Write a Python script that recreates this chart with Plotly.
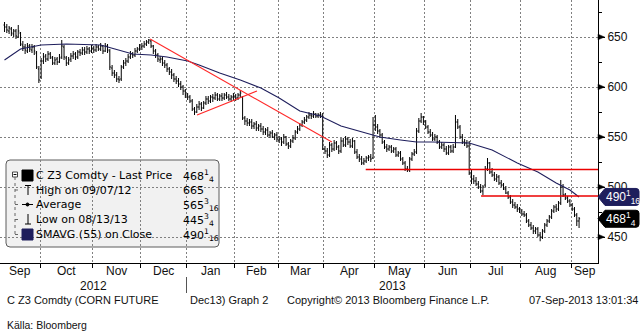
import math
import plotly.graph_objects as go

# ---------------------------------------------------------------------------
# C Z3 Comdty (Dec-13 corn), daily bars 07-Sep-2012 .. 06-Sep-2013, US cents/bu
# one row per calendar month (Sep-12 ... Sep-13)
# ---------------------------------------------------------------------------
OPEN = [
    662, 660, 656, 658, 653, 656, 650, 654, 642, 640, 636, 641, 637, 640, 634, 618,
    610, 626, 631, 628, 633, 629, 624, 628, 625, 630, 640, 629, 624, 628, 631, 633, 630, 635, 634, 637, 635, 638, 636,
    639, 637, 640, 638, 641, 636, 641, 636, 619, 614, 612, 608, 608, 620, 624, 626, 630, 633, 632, 636, 638,
    640, 641, 643, 645, 646, 641, 636, 632, 627, 628, 624, 622, 618, 615, 612, 608, 606, 603, 600, 596,
    592, 590, 586, 578, 575, 580, 583, 579, 584, 588, 586, 590, 589, 592, 588, 591, 589, 592, 590, 588, 590,
    591, 589, 592, 590, 569, 566, 564, 565, 561, 563, 559, 561, 558, 555, 557, 552, 554, 550, 552,
    547, 548, 545, 550, 543, 541, 546, 549, 555, 558, 562, 565, 567, 570, 572, 571, 573, 571, 572, 571,
    538, 536, 532, 542, 538, 544, 540, 536, 546, 542, 548, 545, 541, 546, 535, 530, 528, 524, 526, 529, 530, 529,
    562, 560, 556, 552, 545, 540, 538, 540, 536, 538, 532, 534, 528, 524, 518, 517, 528, 533, 535, 556, 566, 570,
    565, 560, 555, 552, 548, 550, 545, 540, 542, 538, 534, 540, 536, 540, 565, 560, 550, 545, 544, 541,
    512, 508, 506, 503, 500, 496, 502, 518, 524, 515, 512, 508, 510, 504, 502, 498, 494, 490, 485, 482, 480, 478,
    476, 473, 472, 466, 462, 459, 456, 458, 452, 450, 456, 462, 466, 470, 476, 480, 478, 484, 500, 492, 489, 486,
    482, 478, 472, 466,
]
HIGH = [
    665, 663, 661, 660, 658, 658, 662, 655, 646, 643, 644, 643, 643, 642, 636, 621,
    629, 634, 633, 636, 635, 631, 630, 630, 633, 647, 642, 631, 630, 634, 636, 635, 637, 638, 640, 640, 641, 640, 642,
    641, 643, 642, 644, 642, 644, 643, 638, 622, 617, 615, 611, 622, 627, 629, 633, 636, 635, 639, 640, 643,
    644, 646, 647, 648, 647, 642, 638, 634, 631, 630, 627, 624, 620, 618, 614, 611, 609, 606, 602, 598,
    594, 592, 588, 580, 583, 586, 585, 586, 591, 591, 592, 593, 595, 594, 593, 594, 594, 595, 593, 592, 594,
    593, 594, 597, 591, 571, 569, 568, 568, 565, 566, 563, 564, 561, 559, 560, 556, 557, 554, 555,
    551, 550, 553, 551, 545, 548, 552, 557, 561, 564, 567, 570, 572, 575, 574, 576, 574, 574, 575, 574,
    541, 539, 545, 544, 547, 546, 542, 549, 549, 551, 550, 548, 549, 547, 538, 533, 531, 529, 531, 532, 533, 570,
    572, 563, 558, 554, 547, 543, 542, 542, 540, 540, 536, 536, 530, 526, 521, 530, 535, 538, 559, 569, 574, 571,
    567, 562, 558, 555, 553, 552, 547, 545, 544, 541, 542, 542, 543, 572, 568, 562, 553, 548, 547, 546,
    517, 512, 510, 506, 503, 502, 521, 529, 525, 519, 515, 513, 512, 507, 504, 501, 496, 492, 488, 485, 483, 480,
    478, 476, 474, 468, 465, 462, 460, 460, 455, 458, 464, 468, 472, 478, 482, 483, 486, 507, 503, 494, 491, 488,
    484, 480, 474, 470,
]
LOW = [
    655, 654, 653, 651, 650, 648, 649, 641, 636, 633, 634, 635, 634, 632, 618, 604,
    608, 623, 625, 626, 628, 622, 622, 622, 624, 628, 627, 621, 622, 625, 628, 627, 628, 631, 632, 632, 633, 633, 634,
    634, 635, 636, 636, 633, 635, 634, 617, 611, 609, 605, 604, 606, 618, 621, 624, 628, 629, 630, 634, 636,
    637, 639, 641, 643, 639, 633, 629, 625, 624, 621, 619, 615, 612, 608, 605, 603, 600, 597, 592, 589,
    587, 584, 576, 572, 574, 577, 576, 578, 582, 583, 584, 585, 587, 586, 586, 586, 587, 588, 586, 585, 587,
    586, 587, 589, 567, 562, 561, 561, 558, 558, 556, 556, 555, 552, 552, 550, 549, 549, 547, 545,
    544, 541, 543, 541, 538, 539, 544, 547, 553, 556, 560, 563, 565, 568, 568, 569, 569, 569, 569, 537,
    533, 529, 530, 535, 536, 537, 533, 534, 540, 540, 542, 539, 539, 533, 528, 525, 522, 522, 524, 526, 525, 528,
    556, 553, 549, 543, 538, 535, 536, 534, 534, 530, 530, 526, 522, 516, 515, 515, 526, 531, 533, 554, 564, 562,
    558, 553, 550, 546, 546, 543, 538, 538, 535, 532, 532, 534, 534, 539, 558, 548, 543, 541, 539, 512,
    503, 503, 501, 498, 494, 492, 500, 516, 513, 510, 506, 505, 502, 500, 497, 493, 488, 483, 479, 478, 475, 474,
    471, 470, 464, 460, 457, 453, 453, 450, 445.75, 448, 454, 460, 464, 468, 474, 475, 476, 482, 490, 487, 484, 480,
    476, 470, 461, 459,
]
CLOSE = [
    660, 657, 659, 654, 656, 651, 656, 643, 640, 637, 641, 638, 640, 636, 620, 607,
    626, 630, 628, 633, 630, 624, 627, 625, 629, 641, 630, 624, 627, 631, 633, 630, 635, 634, 637, 635, 638, 636, 639,
    637, 640, 638, 641, 636, 641, 637, 620, 614, 612, 608, 607, 620, 624, 626, 630, 633, 632, 636, 638, 640,
    641, 643, 645, 647, 641, 636, 632, 628, 628, 624, 622, 618, 615, 612, 608, 606, 603, 600, 596, 592,
    590, 586, 578, 575, 580, 583, 579, 584, 588, 586, 590, 589, 592, 588, 591, 589, 592, 590, 588, 590, 591,
    589, 592, 594, 569, 566, 564, 565, 561, 563, 559, 561, 558, 555, 557, 552, 554, 550, 552, 548,
    548, 545, 550, 543, 541, 546, 549, 555, 558, 562, 565, 567, 570, 572, 571, 573, 571, 572, 572, 538,
    536, 532, 542, 538, 544, 540, 536, 546, 542, 548, 545, 541, 546, 535, 530, 528, 524, 526, 529, 530, 528, 562,
    560, 556, 552, 545, 540, 538, 540, 536, 538, 532, 534, 528, 524, 518, 517, 528, 533, 535, 556, 566, 570, 565,
    560, 555, 552, 548, 550, 545, 540, 542, 538, 534, 540, 536, 540, 565, 560, 550, 545, 544, 541, 514,
    508, 506, 503, 500, 496, 500, 518, 524, 515, 512, 508, 510, 504, 502, 498, 494, 490, 485, 482, 480, 478, 476,
    473, 472, 466, 462, 459, 456, 458, 452, 450, 456, 462, 466, 470, 476, 480, 478, 484, 500, 492, 489, 486, 482,
    478, 472, 466, 468.25,
]

# month axis: first bar index of each month after the first one
MONTHS = ["Sep", "Oct", "Nov", "Dec", "Jan", "Feb", "Mar", "Apr", "May", "Jun", "Jul", "Aug", "Sep"]
MONTH_START = [16, 39, 60, 80, 101, 120, 140, 162, 184, 204, 226, 248]
YEARS = ["2012", "2013"]
YEAR_START = 80

# 55-day simple moving average of the close (bar index, value)
SMA_IDX = [0, 7, 16, 27, 42, 50, 56, 64, 71, 80, 85, 94, 103, 112, 120, 129, 138, 147, 155,
           164, 173, 180, 187, 197, 203, 213, 224, 233, 241, 247, 251]
SMA_VAL = [627, 638, 642, 643, 642, 637, 633, 632, 630, 626, 622, 614, 607, 599, 589, 576, 571, 561, 556,
           550, 547, 545, 545, 544, 544, 537, 524, 515, 504, 497, 490.0625]

# hand-drawn trend lines: (start index, start price, end index, end price)
TRENDS = [(63.6, 648, 143.0, 545), (84.1, 572, 110.3, 596)]
# horizontal support lines: (start index, price), run to the right edge
LEVELS = [(157.8, 517.5), (208.2, 491)]

Y_TICKS = [450, 500, 550, 600, 650]
Y_MINOR = [475, 525, 575, 625, 675]

TICKER = "C Z3 Comdty"
AVERAGE = 565.1875
HIGH_DATE = "09/07/12"
LOW_DATE = "08/13/13"

for arr in (OPEN, HIGH, LOW):
    assert len(arr) == len(CLOSE)

# ---------------------------------------------------------------------------
W, H = 641, 336
PW, PH = 598, 263                     # plot area in pixels (left/top at 0)
X_RANGE = [-1.975, 259.27]
Y_RANGE = [424, 687]

NAVY = "#1e1e5c"
GRID = "#808080"
TXT = "#111111"
AX_FONT = "Liberation Sans, Arial, sans-serif"
LEG_FONT = "DejaVu Sans, Verdana, sans-serif"


def xp(px):
    return px / PW


def yp(py):
    return (PH - py) / PH


def frac_html(v):
    whole = math.floor(v)
    rem = v - whole
    if rem < 1e-9:
        return str(whole)
    den = 1
    while abs(rem * den - round(rem * den)) > 1e-9:
        den *= 2
    return f"{whole}<sup>{round(rem * den)}</sup><sub>{den}</sub>"


idx = list(range(len(CLOSE)))
fig = go.Figure()

fig.add_trace(go.Ohlc(
    x=idx, open=OPEN, high=HIGH, low=LOW, close=CLOSE,
    increasing=dict(line=dict(color="#000000", width=1)),
    decreasing=dict(line=dict(color="#000000", width=1)),
    tickwidth=0.45, hoverinfo="skip", showlegend=False,
))

fig.add_trace(go.Scatter(x=SMA_IDX, y=SMA_VAL, mode="lines",
                         line=dict(color=NAVY, width=1.1),
                         hoverinfo="skip", showlegend=False))

for x0, y0, x1, y1 in TRENDS:
    fig.add_trace(go.Scatter(x=[x0, x1], y=[y0, y1], mode="lines",
                             line=dict(color="rgb(255,40,40)", width=1.1),
                             hoverinfo="skip", showlegend=False))
for x0, lvl in LEVELS:
    fig.add_trace(go.Scatter(x=[x0, X_RANGE[1]], y=[lvl, lvl], mode="lines",
                             line=dict(color="rgb(235,0,0)", width=1.4),
                             hoverinfo="skip", showlegend=False))

shapes = []
annotations = []

# ---- legend panel -------------------------------------------------------
def rounded_rect(x0, y0, x1, y1, r):
    pts = [
        f"M{xp(x0 + r)},{yp(y0)}", f"L{xp(x1 - r)},{yp(y0)}",
        f"Q{xp(x1)},{yp(y0)} {xp(x1)},{yp(y0 + r)}", f"L{xp(x1)},{yp(y1 - r)}",
        f"Q{xp(x1)},{yp(y1)} {xp(x1 - r)},{yp(y1)}", f"L{xp(x0 + r)},{yp(y1)}",
        f"Q{xp(x0)},{yp(y1)} {xp(x0)},{yp(y1 - r)}", f"L{xp(x0)},{yp(y0 + r)}",
        f"Q{xp(x0)},{yp(y0)} {xp(x0 + r)},{yp(y0)}", "Z",
    ]
    return " ".join(pts)


shapes.append(dict(type="path", xref="paper", yref="paper", layer="below",
                   path=rounded_rect(6, 160, 219, 247, 4),
                   fillcolor="#f1f1f1", line=dict(color="#5c5c5c", width=1)))

rows_y = [175.5, 190, 204.5, 219.5, 234.5]


def pline(x0, y0, x1, y1, color="#000", width=1, dash=None):
    ln = dict(color=color, width=width)
    if dash:
        ln["dash"] = dash
    shapes.append(dict(type="line", xref="paper", yref="paper",
                       x0=xp(x0), y0=yp(y0), x1=xp(x1), y1=yp(y1), line=ln))


def prect(x0, y0, x1, y1, fill, color):
    shapes.append(dict(type="rect", xref="paper", yref="paper",
                       x0=xp(x0), y0=yp(y0), x1=xp(x1), y1=yp(y1),
                       fillcolor=fill, line=dict(color=color, width=1)))


# tree connector
prect(12.5, 172, 17.5, 177, "#ffffff", "#444")
pline(13.5, 174.5, 16.5, 174.5, "#000")
pline(15, 177, 15, rows_y[4], "#666", 1, "dot")
for ry in rows_y[1:]:
    pline(15, ry, 20, ry, "#666", 1, "dot")

# row icons
prect(22, 170, 33, 181, "#000000", "#000000")
pline(25, 185.5, 31, 185.5)
pline(28, 185.5, 28, 195)
pline(22, 204.5, 33, 204.5)
shapes.append(dict(type="circle", xref="paper", yref="paper",
                   x0=xp(26), y0=yp(203), x1=xp(29), y1=yp(206),
                   fillcolor="#000", line=dict(color="#000", width=1)))
pline(28, 214, 28, 224)
pline(25, 224, 31, 224)
prect(22, 229, 33, 240, NAVY, NAVY)

leg_labels = [
    f"{TICKER} - Last Price",
    f"High on {HIGH_DATE}",
    "Average",
    f"Low on {LOW_DATE}",
    "SMAVG (55) on Close",
]
leg_values = [
    frac_html(CLOSE[-1]),
    frac_html(max(HIGH)),
    frac_html(AVERAGE),
    frac_html(min(LOW)),
    frac_html(SMA_VAL[-1]),
]
for ry, lab, val in zip(rows_y, leg_labels, leg_values):
    annotations.append(dict(xref="paper", yref="paper", x=xp(34), y=yp(ry),
                            xanchor="left", yanchor="middle", text=lab, showarrow=False,
                            font=dict(family=LEG_FONT, size=11, color="#000")))
    annotations.append(dict(xref="paper", yref="paper", x=xp(181), y=yp(ry),
                            xanchor="left", yanchor="middle", text=val, showarrow=False,
                            font=dict(family=LEG_FONT, size=11, color="#000")))

# ---- right axis arrows and price tags ------------------------------------
for v in Y_TICKS:
    shapes.append(dict(type="path", xref="paper", yref="y", layer="above",
                       path=f"M{xp(598)},{v + 2.8} L{xp(604.5)},{v} L{xp(598)},{v - 2.8} Z",
                       fillcolor="#000", line=dict(color="#000", width=0.5)))


def tag(value, fill, text):
    half = 8.5
    p = (f"M{xp(598)},{value} L{xp(605)},{value + half} L{xp(636)},{value + half} "
         f"Q{xp(639)},{value + half} {xp(639)},{value + half - 3} L{xp(639)},{value - half + 3} "
         f"Q{xp(639)},{value - half} {xp(636)},{value - half} L{xp(605)},{value - half} Z")
    shapes.append(dict(type="path", xref="paper", yref="y", layer="above", path=p,
                       fillcolor=fill, line=dict(color=fill, width=1)))
    annotations.append(dict(xref="paper", yref="y", x=xp(604), y=value,
                            xanchor="left", yanchor="middle", text=text, showarrow=False,
                            font=dict(family=AX_FONT, size=12, color="#ffffff")))


tag(SMA_VAL[-1], NAVY, frac_html(SMA_VAL[-1]))
tag(CLOSE[-1], "#000000", frac_html(CLOSE[-1]))

# ---- month / year labels --------------------------------------------------
bounds = [X_RANGE[0]] + [m - 0.5 for m in MONTH_START] + [X_RANGE[1]]
for i, name in enumerate(MONTHS):
    annotations.append(dict(xref="x", yref="paper", x=(bounds[i] + bounds[i + 1]) / 2, y=yp(271),
                            xanchor="center", yanchor="middle", text=name, showarrow=False,
                            font=dict(family=AX_FONT, size=12, color=TXT)))
ysplit = YEAR_START - 0.5
for name, (a, b) in zip(YEARS, [(X_RANGE[0], ysplit), (ysplit, X_RANGE[1])]):
    annotations.append(dict(xref="x", yref="paper", x=(a + b) / 2, y=yp(286),
                            xanchor="center", yanchor="middle", text=name, showarrow=False,
                            font=dict(family=AX_FONT, size=12, color=TXT)))
shapes.append(dict(type="line", xref="x", yref="paper", x0=ysplit, x1=ysplit,
                   y0=yp(277), y1=yp(293), line=dict(color="#555", width=1)))

# ---- footer ---------------------------------------------------------------
FOOT = dict(family=AX_FONT, size=11, color="#111")
for x, text, anchor in [
    (5, f"{TICKER} (CORN FUTURE", "left"),
    (188, "Dec13) Graph 2", "left"),
    (285, "Copyright© 2013 Bloomberg Finance L.P.", "left"),
    (640, "07-Sep-2013 13:01:34", "right"),
]:
    annotations.append(dict(xref="paper", yref="paper", x=xp(x), y=yp(300),
                            xanchor=anchor, yanchor="middle", text=text, showarrow=False, font=FOOT))
annotations.append(dict(xref="paper", yref="paper", x=xp(5), y=yp(325),
                        xanchor="left", yanchor="middle", text="Källa: Bloomberg",
                        showarrow=False, font=dict(family=AX_FONT, size=10.5, color="#111")))

fig.update_layout(
    width=W, height=H,
    margin=dict(l=0, r=W - PW, t=0, b=H - PH, pad=0),
    paper_bgcolor="#ffffff", plot_bgcolor="#ffffff",
    showlegend=False,
    shapes=shapes, annotations=annotations,
    xaxis=dict(
        range=X_RANGE, fixedrange=True, automargin=False,
        rangeslider=dict(visible=False),
        tickvals=[m - 0.5 for m in MONTH_START], ticktext=[""] * len(MONTH_START),
        ticks="outside", ticklen=4, tickcolor="#000", tickwidth=1,
        showline=True, linecolor="#000", linewidth=1,
        showgrid=True, gridcolor=GRID, gridwidth=1, griddash="2px,2px",
        zeroline=False,
    ),
    yaxis=dict(
        side="right", range=Y_RANGE, fixedrange=True, automargin=False,
        tickvals=Y_TICKS, ticktext=[str(v) for v in Y_TICKS],
        ticks="outside", ticklen=6, tickcolor="#000", tickwidth=1,
        tickfont=dict(family=AX_FONT, size=12, color=TXT),
        showline=True, linecolor="#000", linewidth=1,
        showgrid=True, gridcolor=GRID, gridwidth=1, griddash="2px,2px",
        zeroline=False,
        minor=dict(tickvals=Y_MINOR, ticks="outside", ticklen=3, tickcolor="#000", showgrid=False),
    ),
)

fig.write_html("out.html", config={"displayModeBar": False})
